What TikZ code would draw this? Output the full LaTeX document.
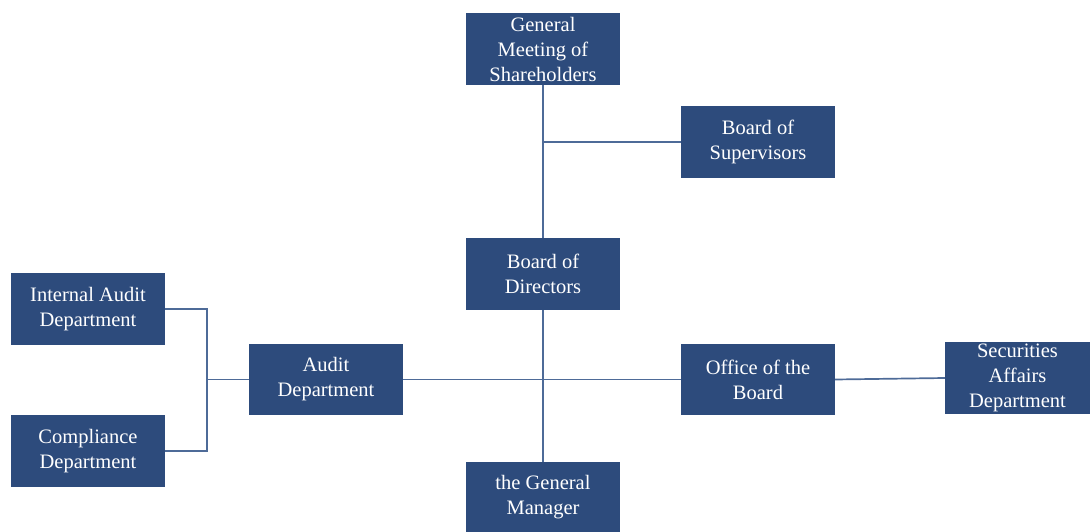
\documentclass[tikz,border=0pt]{standalone}
\usepackage{fontspec}
\setmainfont{Liberation Serif}
\begin{document}
\begin{tikzpicture}[x=1pt,y=-1pt,
  orgbox/.style={fill=boxblue, text=white, align=center, inner sep=0pt,
    minimum width=154pt, minimum height=72pt,
    font=\fontsize{20.5}{25}\selectfont},
  link/.style={draw=lineblue, line width=1.7pt}]
\definecolor{boxblue}{HTML}{2D4B7C}
\definecolor{lineblue}{HTML}{4E6B98}
\useasboundingbox (0,0) rectangle (1090,532);
% boxes
\node[orgbox] (gms) at (543,49) {General\\Meeting of\\Shareholders};
\node[orgbox] (bos) at (758,142) {Board of\\Supervisors};
\node[orgbox] (bod) at (543,274) {Board of\\Directors};
\node[orgbox] (iad) at (88,309) {Internal Audit\\Department};
\node[orgbox, minimum height=71pt] (aud) at (326,379.5) {Audit\\Department};
\node[orgbox, minimum height=71pt] (otb) at (758,379.5) {Office of the\\Board};
\node[orgbox, minimum width=145pt] (sad) at (1017.5,378) {Securities\\Affairs\\Department};
\node[orgbox] (cmp) at (88,451) {Compliance\\Department};
\node[orgbox, minimum height=70pt] (tgm) at (543,497) {the General\\Manager};
% junctions
\coordinate (j1) at (543,142);
\coordinate (j3) at (207,379.5);
% connectors
\draw[link] (gms.south) -- (bod.north);
\draw[link] (j1) -- (bos.west);
\draw[link] (bod.south) -- (tgm.north);
\draw[link] (aud.east) -- (otb.west);
\draw[link] (otb.east) -- (sad.west);
\draw[link] (iad.east) -| (j3) |- (cmp.east);
\draw[link] (j3) -- (aud.west);
\end{tikzpicture}
\end{document}
